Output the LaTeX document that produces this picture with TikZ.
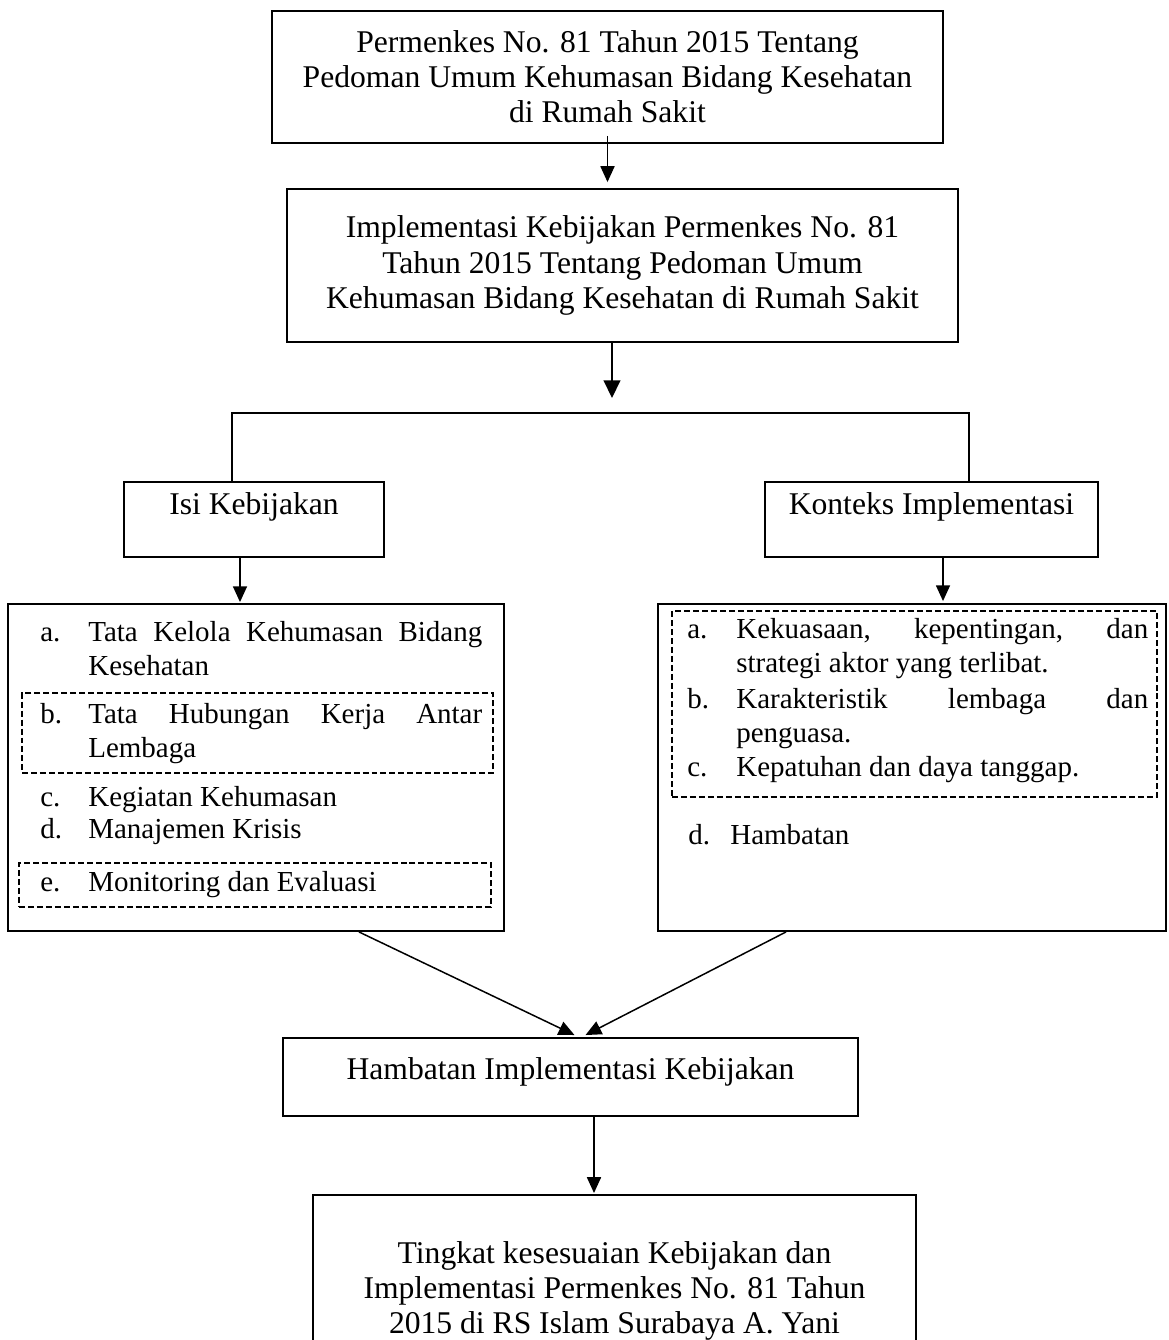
\documentclass[tikz,border=0pt]{standalone}
\usepackage{fontspec}
\setmainfont{Liberation Serif}
\usetikzlibrary{arrows.meta,calc}
\hyphenpenalty=10000
\exhyphenpenalty=10000
\tolerance=10000
\newcommand{\listentry}[3][0.96cm]{\hangindent=#1\hangafter=1\makebox[#1][l]{#2}#3\par}

\begin{document}
\begin{tikzpicture}[x=0.02cm, y=-0.02cm]
  \tikzstyle{box} = [rectangle, draw=black, line width=1.1pt, inner sep=0pt, align=center, font=\fontsize{18}{20}\selectfont]
  \tikzstyle{listbox} = [rectangle, draw=black, line width=1.1pt, inner sep=0pt]
  \tikzstyle{dashbox} = [rectangle, draw=black, line width=0.85pt, dash pattern=on 3.4pt off 1.7pt, inner sep=0pt]
  \tikzstyle{entry} = [anchor=base west, inner sep=0pt, align=justify, font=\fontsize{16.5}{19.2}\selectfont]
  \tikzstyle{arrow} = [line width=0.85pt, -{Triangle[width=8pt,length=9pt]}]
  \tikzstyle{bigarrow} = [line width=0.85pt, -{Triangle[width=9.5pt,length=10pt]}]
  \tikzstyle{branch} = [line width=1.1pt]

  \useasboundingbox (0,0) rectangle (1169,1340);
  \clip (0,0) rectangle (1169,1340);

  % top of the chart
  \node (perm) [box, minimum width=13.42cm, minimum height=2.64cm] at (607.5,77)
    {Permenkes No. 81 Tahun 2015 Tentang\\Pedoman Umum Kehumasan Bidang Kesehatan\\di Rumah Sakit};
  \node (impl) [box, minimum width=13.42cm, minimum height=3.06cm] at (622.5,265.5)
    {Implementasi Kebijakan Permenkes No. 81\\Tahun 2015 Tentang Pedoman Umum\\Kehumasan Bidang Kesehatan di Rumah Sakit};

  % two branches
  \node (isi) [box, minimum width=5.2cm, text height=0.64cm, text depth=0.86cm] at (254,519.5) {Isi Kebijakan};
  \node (konteks) [box, minimum width=6.66cm, text height=0.64cm, text depth=0.86cm] at (931.5,519.5) {Konteks Implementasi};

  \node (isiList) [listbox, minimum width=9.92cm, minimum height=6.54cm] at (256,767.5) {};
  \node (kontList) [listbox, minimum width=10.16cm, minimum height=6.54cm] at (912,767.5) {};

  \node (dashB) [dashbox, minimum width=9.42cm, minimum height=1.6cm] at (257.5,733) {};
  \node (dashE) [dashbox, minimum width=9.44cm, minimum height=0.88cm] at (255,885) {};
  \node (dashABC) [dashbox, minimum width=9.7cm, minimum height=3.72cm] at (914.5,704) {};

  \node (itA) [entry, text width=8.84cm] at (40,641.5) {\listentry{a.}{Tata Kelola Kehumasan Bidang Kesehatan}};
  \node (itB) [entry, text width=8.84cm] at (40,723.5) {\listentry{b.}{Tata Hubungan Kerja Antar Lembaga}};
  \node (itC) [entry, text width=8.84cm] at (40,806.5) {\listentry{c.}{Kegiatan Kehumasan}};
  \node (itD) [entry, text width=8.84cm] at (40,838.5) {\listentry{d.}{Manajemen Krisis}};
  \node (itE) [entry, text width=8.84cm] at (40,891.5) {\listentry{e.}{Monitoring dan Evaluasi}};

  \node (itKa) [entry, text width=9.22cm] at (687,638.5) {\listentry[0.98cm]{a.}{Kekuasaan, kepentingan, dan strategi aktor yang terlibat.}};
  \node (itKb) [entry, text width=9.22cm] at (687,708.5) {\listentry[0.98cm]{b.}{Karakteristik lembaga dan penguasa.}};
  \node (itKc) [entry, text width=9.22cm] at (687,776.5) {\listentry[0.98cm]{c.}{Kepatuhan dan daya tanggap.}};
  \node (itKd) [entry, text width=9.22cm] at (688,844.5) {\listentry[0.84cm]{d.}{Hambatan}};

  % bottom of the chart
  \node (hamb) [box, minimum width=11.5cm, text height=0.82cm, text depth=0.74cm] at (570.5,1077) {Hambatan Implementasi Kebijakan};
  \node (final) [box, anchor=north, minimum width=12.06cm, minimum height=3.84cm] at (614.5,1194)
    {Tingkat kesesuaian Kebijakan dan\\Implementasi Permenkes No. 81 Tahun\\2015 di RS Islam Surabaya A. Yani};

  \coordinate (split) at (612,398);
  \coordinate (brL) at (232,413);
  \coordinate (brR) at (969,413);
  \coordinate (isiArr) at (240,580);
  \coordinate (konArr) at (943,580);
  \coordinate (hambArr) at (594,1150);

  \draw [arrow, shorten >=0.12cm] ([yshift=0.16cm]perm.south) -- (perm.south |- impl.north);
  \draw [bigarrow] (impl.south -| split) -- (split);
  \draw [branch] (isi.north -| brL) -- (brL) -- (brR) -- (konteks.north -| brR);
  \draw [arrow, shorten >=0.02cm] (isi.south -| isiArr) -- (isiList.north -| isiArr);
  \draw [arrow, shorten >=0.04cm] (konteks.south -| konArr) -- (kontList.north -| konArr);
  \draw [arrow] ($(isiList.south)+(103,0)$) -- ($(hamb.north)+(4,-2)$);
  \draw [arrow] ($(kontList.south)+(-126,0)$) -- ($(hamb.north)+(15,-2)$);
  \draw [arrow, shorten >=0.02cm] (hamb.south -| hambArr) -- (final.north -| hambArr);
\end{tikzpicture}
\end{document}
